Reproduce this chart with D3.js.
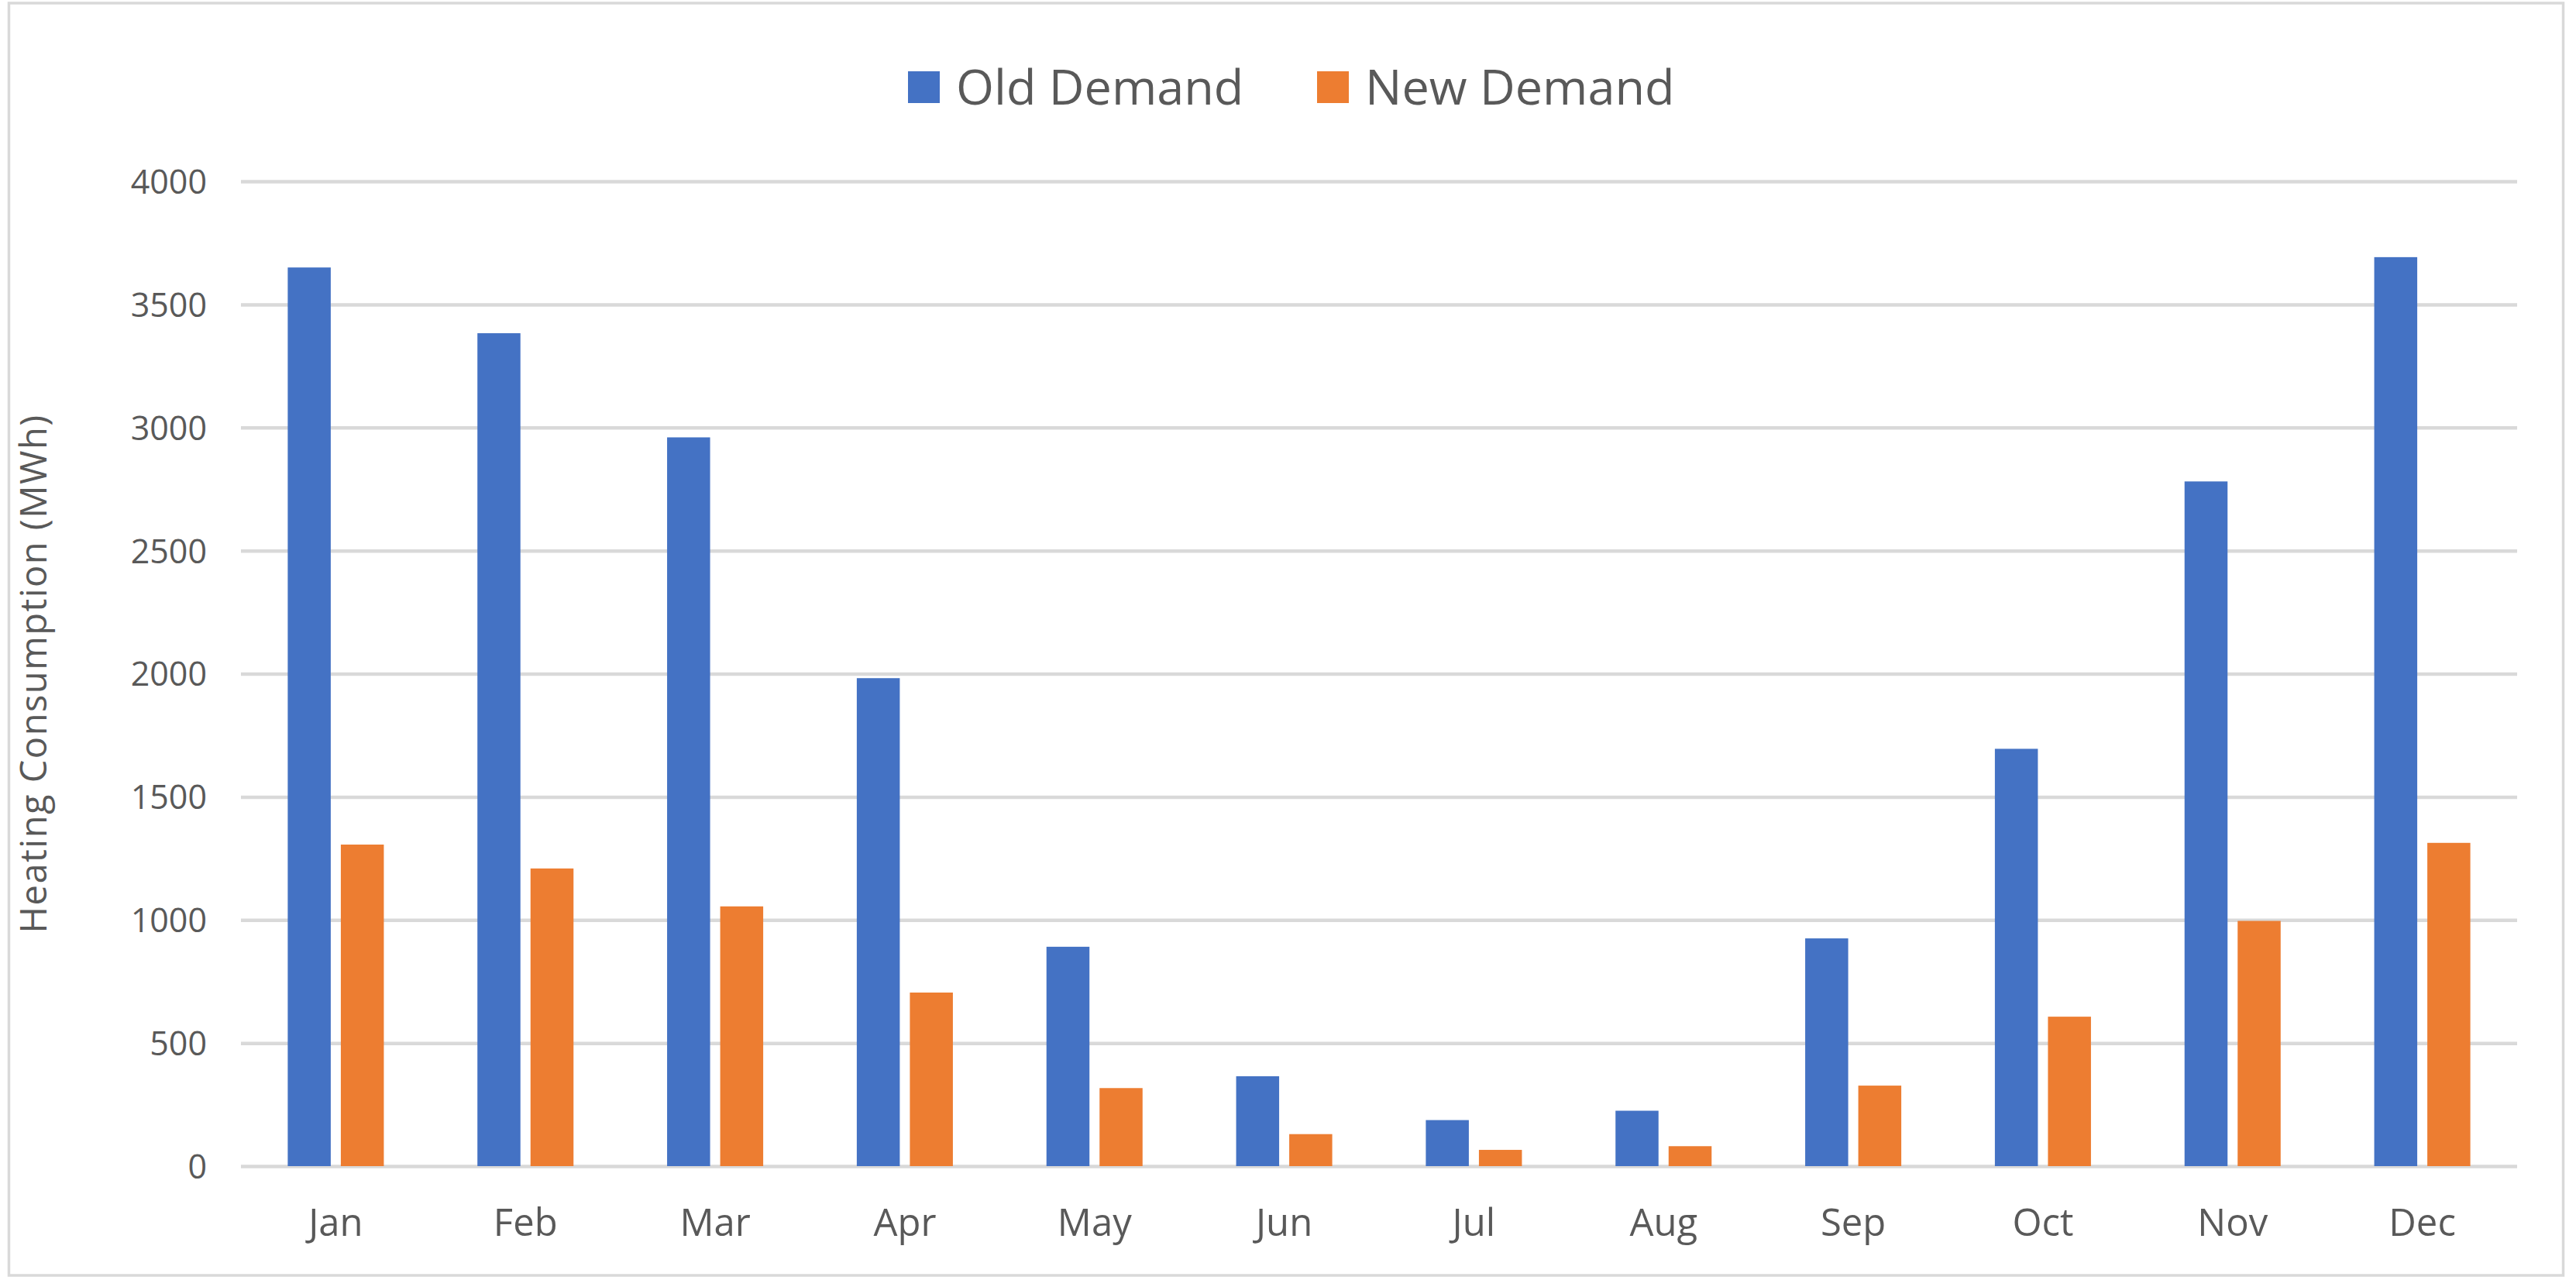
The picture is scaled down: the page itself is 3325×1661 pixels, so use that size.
<!DOCTYPE html>
<html>
<head>
<meta charset="utf-8">
<script src="https://cdn.jsdelivr.net/npm/d3@7"></script>
<style>
  html, body { margin: 0; padding: 0; background: #ffffff; }
  svg { display: block; }
</style>
</head>
<body>
<svg id="chart" width="3325" height="1661"></svg>
<script>
const months = ["Jan","Feb","Mar","Apr","May","Jun","Jul","Aug","Sep","Oct","Nov","Dec"];
const seriesNames = ["Old Demand","New Demand"];
const oldDemand = [3650, 3383, 2960, 1982, 891, 365, 187, 225, 925, 1695, 2781, 3692];
const newDemand = [1306, 1209, 1055, 705, 317, 130, 66, 81, 327, 607, 996, 1313];
const yTicks = [0, 500, 1000, 1500, 2000, 2500, 3000, 3500, 4000];
const yTitle = "Heating Consumption (MWh)";
const colors = ["#4472C4", "#ED7D31"];

const svg = d3.select("#chart");
const W = 3325, H = 1661;
const plot = { left: 311, right: 3249, top: 234, bottom: 1505 };
const font = "'Open Sans', 'Noto Sans', sans-serif";
const textColor = "#595959";
const gridColor = "#D9D9D9";

svg.append("rect").attr("width", W).attr("height", H).attr("fill", "#ffffff");
// chart border
svg.append("rect")
  .attr("x", 11.5).attr("y", 4).attr("width", 3297).attr("height", 1642)
  .attr("fill", "none").attr("stroke", gridColor).attr("stroke-width", 3.5);

const x0 = d3.scaleBand().domain(months).range([plot.left, plot.right])
  .paddingInner(0.4934).paddingOuter(0.2467);
const x1 = d3.scaleBand().domain(seriesNames).range([0, x0.bandwidth()]).paddingInner(0.19);
const y = d3.scaleLinear().domain([0, 4000]).range([plot.bottom, plot.top]);

// gridlines
const yAxis = d3.axisLeft(y).tickValues(yTicks).tickFormat(d3.format("d"))
  .tickSize(-(plot.right - plot.left)).tickPadding(44);
const gy = svg.append("g").attr("transform", `translate(${plot.left},0)`).call(yAxis);
gy.select(".domain").remove();
gy.selectAll(".tick line").attr("stroke", gridColor).attr("stroke-width", 4.5);
gy.selectAll(".tick text").attr("fill", textColor).attr("font-family", font).attr("font-size", 43)
  .attr("dy", "0.36em");

// bars
const rows = months.map((m, i) => ({ month: m, values: [oldDemand[i], newDemand[i]] }));
const groups = svg.append("g").selectAll("g").data(rows).join("g")
  .attr("transform", d => `translate(${x0(d.month)},0)`);
groups.selectAll("rect").data(d => d.values.map((v, k) => ({ key: seriesNames[k], v, k })))
  .join("rect")
  .attr("x", d => x1(d.key))
  .attr("width", x1.bandwidth())
  .attr("y", d => y(d.v))
  .attr("height", d => y(0) - y(d.v))
  .attr("fill", d => colors[d.k]);

// x axis labels
const xAxis = d3.axisBottom(x0).tickSize(0).tickPadding(0);
const gx = svg.append("g").attr("transform", `translate(0,${plot.bottom})`).call(xAxis);
gx.select(".domain").remove();
gx.selectAll(".tick text").attr("fill", textColor).attr("font-family", font).attr("font-size", 49)
  .attr("y", 90).attr("dy", 0);

// y title
svg.append("text")
  .attr("transform", `translate(60, ${(plot.top + plot.bottom) / 2}) rotate(-90)`)
  .attr("text-anchor", "middle")
  .attr("fill", textColor).attr("font-family", font).attr("font-size", 47)
  .attr("letter-spacing", 1.5)
  .text(yTitle);

// legend
const legendItems = [{ name: seriesNames[0], x: 1172 }, { name: seriesNames[1], x: 1700 }];
const lg = svg.append("g");
legendItems.forEach((it, k) => {
  lg.append("rect").attr("x", it.x).attr("y", 92).attr("width", 41).attr("height", 41).attr("fill", colors[k]);
  lg.append("text").attr("x", it.x + 62).attr("y", 135)
    .attr("fill", textColor).attr("font-family", font).attr("font-size", 63)
    .text(it.name);
});
</script>
</body>
</html>
